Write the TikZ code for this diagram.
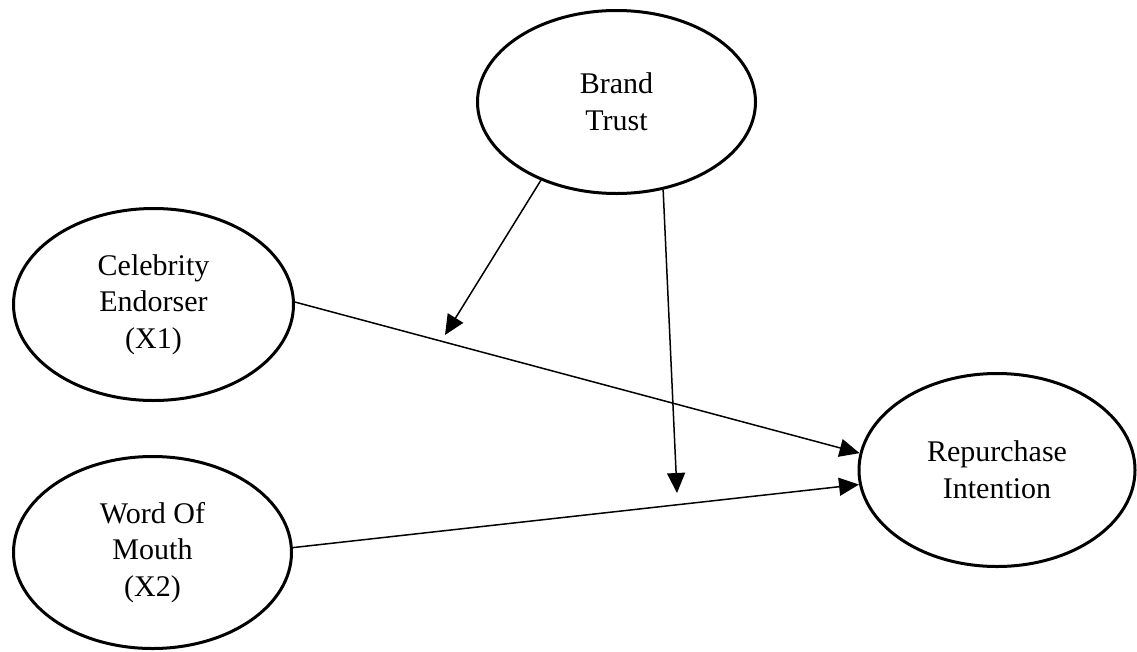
\documentclass[tikz,border=0pt]{standalone}
\usepackage{fontspec}
\setmainfont{Liberation Serif}
\usetikzlibrary{shapes.geometric,arrows.meta}
\begin{document}
\begin{tikzpicture}[x=1pt,y=-1pt,
  construct/.style={draw=black, line width=3pt, ellipse, inner sep=0pt,
    align=center, font=\fontsize{30}{36.7}\selectfont},
  link/.style={draw=black, line width=1.5pt, -{Triangle[length=20pt,width=18pt]}}]
\useasboundingbox[fill=white] (0,0) rectangle (1137,651);
\node[construct, minimum width=278pt, minimum height=183pt] (bt) at (616.5,102) {Brand\\Trust};
\node[construct, minimum width=280pt, minimum height=192pt] (ce) at (153.5,304.5) {Celebrity\\Endorser\\(X1)};
\node[construct, minimum width=278pt, minimum height=192pt] (wom) at (152.5,552.5) {Word Of\\Mouth\\(X2)};
\node[construct, minimum width=276pt, minimum height=193pt] (ri) at (997,470) {Repurchase\\Intention};
\coordinate (m1) at (445,335);
\coordinate (m2) at (677,493);
\draw[link] (ce.1) -- (ri.173);
\draw[link] (wom.2) -- (ri.186);
\draw[link] (bt.226) -- (m1);
\draw[link] (bt.298) -- (m2);
\end{tikzpicture}
\end{document}
